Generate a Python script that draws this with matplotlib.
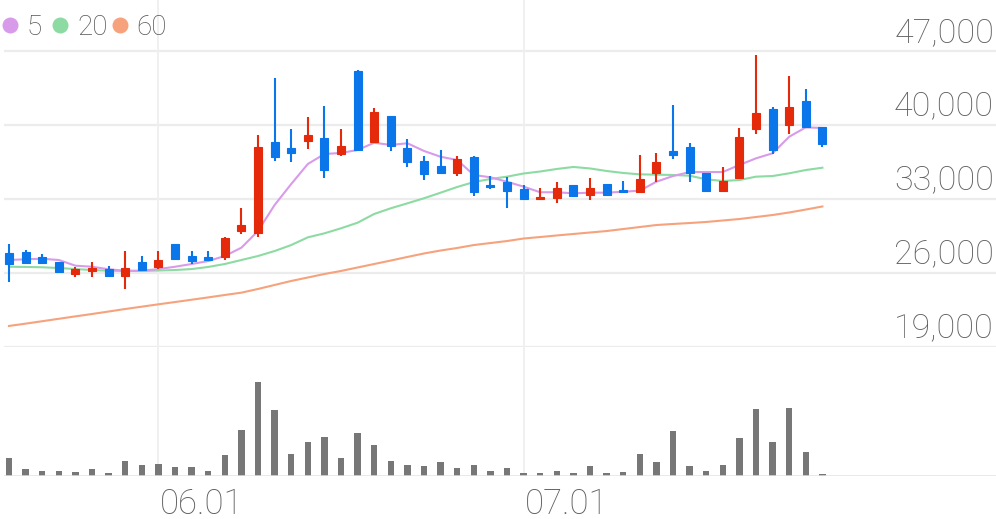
import matplotlib
matplotlib.use("Agg")
import matplotlib.pyplot as plt
from matplotlib.lines import Line2D
import matplotlib.transforms as mtransforms

# ---------------- data ----------------
opens = [27900, 28000, 27450, 27000, 25900, 26140, 26380, 25700, 27000, 26520,
         28700, 27620, 27450, 27520, 29930, 29800, 38380, 37810, 38500, 38820,
         37300, 45120, 38380, 40910, 37870, 36640, 36130, 35500, 36960, 34330,
         34610, 33980, 33030, 33070, 34330, 33410, 34400, 33850, 33640, 35500,
         37580, 37900, 35440, 33760, 34990, 39620, 41510, 40020, 42270, 39860]
highs = [28700, 28130, 27750, 27050, 26520, 27020, 26610, 28040, 27560, 28040,
         28720, 28040, 28040, 29350, 32120, 39100, 44460, 39620, 40810, 41800,
         39620, 45220, 41610, 40910, 38720, 37110, 37680, 37110, 37110, 35210,
         35120, 34300, 34070, 34590, 34330, 34960, 34400, 34740, 37150, 37340,
         41890, 38290, 35440, 36070, 39770, 46640, 41700, 44670, 43410, 39860]
lows = [25150, 26900, 26900, 26040, 25570, 25570, 25650, 24430, 26240, 26330,
        27260, 26830, 27200, 27210, 29650, 29370, 36610, 36480, 37720, 34990,
        37050, 37650, 38290, 37560, 36040, 34830, 35370, 35210, 33290, 33980,
        32150, 32900, 33030, 32590, 33160, 32900, 33290, 33640, 33640, 34610,
        36770, 34610, 33760, 33760, 34990, 39140, 37240, 39140, 39860, 37910]
closes = [26850, 26950, 26950, 26100, 26350, 26450, 25690, 26420, 26260, 27240,
          27280, 27090, 27240, 29330, 30500, 37900, 36990, 37370, 39050, 35750,
          38060, 37650, 41230, 38030, 36510, 35400, 35440, 36770, 33640, 34140,
          33790, 32970, 33220, 34070, 33290, 34070, 33410, 33640, 34870, 36540,
          37180, 35440, 33760, 34740, 38860, 41130, 37650, 41700, 39860, 38190]
volumes = [18.0, 6.6, 4.3, 4.3, 3.6, 6.3, 2.6, 14.3, 10.6, 11.3,
           8.3, 9.0, 5.0, 21.0, 45.3, 93.3, 66.0, 22.0, 33.6, 38.6,
           18.0, 42.3, 31.0, 15.0, 10.6, 9.3, 14.0, 8.0, 11.0, 4.6,
           7.3, 2.6, 2.3, 4.6, 2.3, 9.6, 3.0, 4.0, 22.0, 14.0,
           44.3, 10.0, 4.3, 10.3, 38.0, 66.6, 33.6, 67.3, 23.3, 1.3]
ma5 = [27210, 27280, 27330, 27210, 26670, 26570, 26330, 26190, 26190, 26350,
       26570, 26830, 27110, 27590, 28380, 29960, 32430, 34420, 36320, 37270,
       37370, 37650, 38340, 38130, 38290, 37560, 37010, 36700, 35280, 35060,
       34640, 34170, 33640, 33640, 33540, 33600, 33600, 33690, 33790, 34640,
       35180, 35560, 35560, 35560, 36230, 36860, 37340, 38910, 39800, 39740]
ma20 = [26570, 26550, 26520, 26450, 26350, 26260, 26190, 26170, 26170, 26210,
        26260, 26350, 26550, 26830, 27210, 27590, 28060, 28630, 29360, 29740,
        30220, 30750, 31580, 32120, 32590, 33070, 33600, 34140, 34610, 34900,
        35120, 35420, 35610, 35850, 36040, 35900, 35660, 35470, 35340, 35310,
        35280, 35210, 34870, 34710, 34800, 35120, 35180, 35440, 35750, 35970]
ma60 = [20950, 21170, 21400, 21630, 21860, 22085, 22320, 22560, 22780, 23005,
        23220, 23440, 23660, 23890, 24110, 24460, 24840, 25220, 25550, 25880,
        26170, 26500, 26830, 27160, 27500, 27830, 28110, 28350, 28630, 28820,
        29010, 29250, 29390, 29540, 29680, 29820, 29960, 30150, 30340, 30530,
        30630, 30720, 30820, 30960, 31100, 31290, 31480, 31720, 32000, 32290]
date_pos = [9, 31]
date_labels = ["06.01", "07.01"]
price_ticks = [19000, 26000, 33000, 40000, 47000]
legend_labels = ["5", "20", "60"]

# ---------------- style ----------------
UP = "#e42a0a"
DOWN = "#0a76ea"
C5, C20, C60 = "#d89bea", "#8ddba3", "#f6a27c"
GRID = "#ececec"
TXT = "#5e5e5e"
FONT = "Roboto"

W, H = 996, 519
fig = plt.figure(figsize=(W / 100, H / 100), dpi=100)
fig.patch.set_facecolor("white")

L, R = 4, 996
ax = fig.add_axes([L / W, (H - 346.5) / H, (R - L) / W, 346.5 / H])
axv = fig.add_axes([L / W, (H - 475.5) / H, (R - L) / W, (475.5 - 347) / H])

px = 16.6
xmin = (L - 9) / px
xmax = (R - 9) / px
for a in (ax, axv):
    a.set_xlim(xmin, xmax)
    for s in a.spines.values():
        s.set_visible(False)
    a.set_facecolor("none")
    a.tick_params(left=False, bottom=False, labelleft=False, labelbottom=False)
    a.set_yticks([])

ppx = 7000 / 73.75
ax.set_ylim(19000, 47000 + 51.5 * ppx)
axv.set_ylim(0, 128.5)

# grid
for p in price_ticks:
    ax.axhline(p, color=GRID, lw=1.6, zorder=0)
for d in date_pos:
    ax.axvline(d, color="#f0f0f0", lw=1.4, zorder=0)
    axv.axvline(d, color="#f0f0f0", lw=1.4, zorder=0)
axv.axhline(0, color="#e2e2e2", lw=1.8, zorder=3)

xs = list(range(len(opens)))

# moving averages
ax.plot(xs, ma60, color=C60, lw=1.5, zorder=2)
ax.plot(xs, ma20, color=C20, lw=1.5, zorder=2)
ax.plot(xs, ma5, color=C5, lw=1.5, zorder=2)

# candles
for i in xs:
    o, h, l, c = opens[i], highs[i], lows[i], closes[i]
    col = UP if c >= o else DOWN
    ax.vlines(i, l, h, color=col, lw=1.5, zorder=3)
    ax.bar(i, abs(c - o), bottom=min(o, c), width=0.48, color=col,
           edgecolor=col, linewidth=0.8, zorder=4)

# volume
axv.bar(xs, volumes, width=0.38, color="#777777", zorder=2)

# y labels (above gridlines, right aligned)
off = mtransforms.offset_copy(ax.get_yaxis_transform(), fig=fig, x=0, y=7, units="points")
for p in price_ticks:
    ax.text(0.998, p, f"{p:,}", transform=off, ha="right", va="baseline",
            fontsize=24.5, color=TXT, family=FONT, fontweight="light")

# x labels
offx = mtransforms.offset_copy(axv.get_xaxis_transform(), fig=fig, x=1, y=-27.5, units="points")
for d, lab in zip(date_pos, date_labels):
    axv.text(d, 0, lab, transform=offx, ha="left", va="baseline",
             fontsize=25, color=TXT, family=FONT, fontweight="light")

# legend
leg_dot_x = [10, 60, 120]
leg_txt_x = [27, 77, 136]
for c, dx, tx, lab in zip([C5, C20, C60], leg_dot_x, leg_txt_x, legend_labels):
    fig.add_artist(Line2D([dx / W], [1 - 25 / H], marker="o", markersize=11.5,
                          color=c, markeredgewidth=0, transform=fig.transFigure))
    fig.text(tx / W, 1 - 35 / H, lab, ha="left", va="baseline", fontsize=20,
             color="#555555", family=FONT, fontweight="light")

fig.savefig("out.png", dpi=100, facecolor="white")
